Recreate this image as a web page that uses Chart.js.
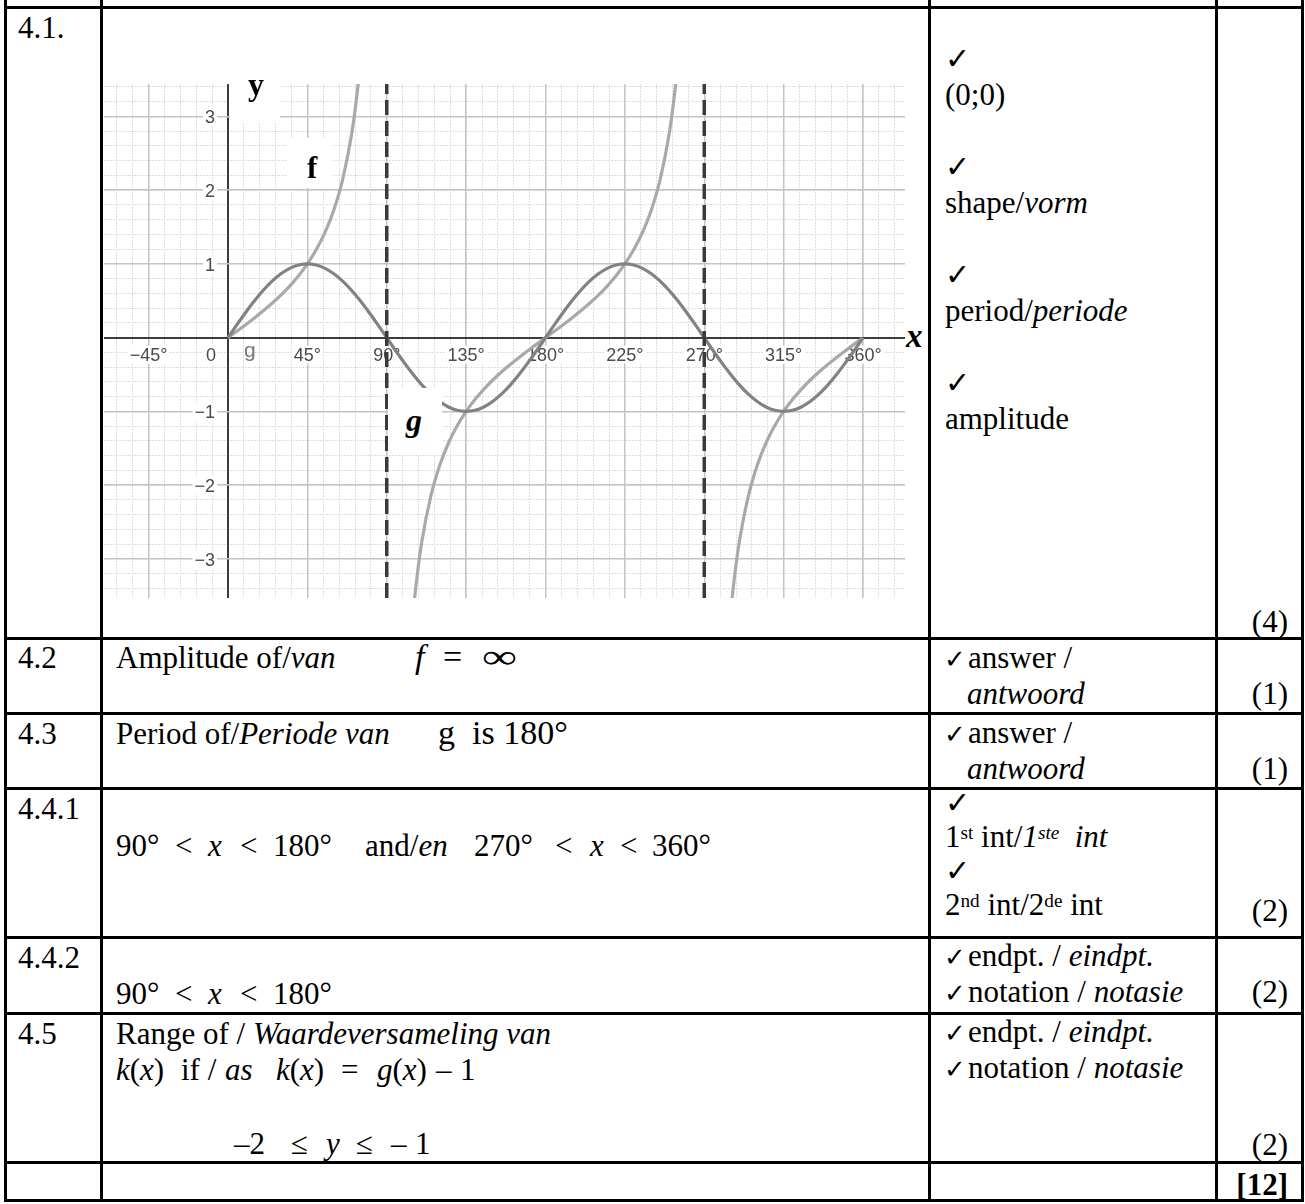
<!DOCTYPE html>
<html><head><meta charset="utf-8">
<script src="https://cdn.jsdelivr.net/npm/chart.js@4.4.1/dist/chart.umd.min.js"></script>
<style>
html,body{margin:0;padding:0;background:#fff;}
#page{position:relative;width:1305px;height:1204px;overflow:hidden;background:#fff;}
.t{position:absolute;white-space:pre;color:#000;}
.t sup{vertical-align:baseline;position:relative;top:-0.42em;font-size:0.62em;}
.ln{position:absolute;background:#000;}
.box{position:absolute;background:#fff;}
#cv{position:absolute;left:104px;top:84px;}
</style></head><body><div id="page"><canvas id="cv" width="801" height="514"></canvas></div>
<script>
// ---------- data ----------
const xTickVals = [-45, 0, 45, 90, 135, 180, 225, 270, 315, 360];
const xTickLabels = ['\u221245°', '0', '45°', '90°', '135°', '180°', '225°', '270°', '315°', '360°'];
const yTickVals = [-3, -2, -1, 0, 1, 2, 3];
const yTickLabels = ['\u22123', '\u22122', '\u22121', '', '1', '2', '3'];
const asymptotes = [90, 270];

const gDeg = [0,5,10,15,20,25,30,35,40,45,50,55,60,65,70,75,80,85,90,
  95,100,105,110,115,120,125,130,135,140,145,150,155,160,165,170,175,180,
  185,190,195,200,205,210,215,220,225,230,235,240,245,250,255,260,265,270,
  275,280,285,290,295,300,305,310,315,320,325,330,335,340,345,350,355,360];
const gVal = [0,0.174,0.342,0.5,0.643,0.766,0.866,0.940,0.985,1,0.985,0.940,0.866,0.766,0.643,0.5,0.342,0.174,0,
  -0.174,-0.342,-0.5,-0.643,-0.766,-0.866,-0.940,-0.985,-1,-0.985,-0.940,-0.866,-0.766,-0.643,-0.5,-0.342,-0.174,0,
  0.174,0.342,0.5,0.643,0.766,0.866,0.940,0.985,1,0.985,0.940,0.866,0.766,0.643,0.5,0.342,0.174,0,
  -0.174,-0.342,-0.5,-0.643,-0.766,-0.866,-0.940,-0.985,-1,-0.985,-0.940,-0.866,-0.766,-0.643,-0.5,-0.342,-0.174,0];

const fDeg1 = [0,5,10,15,20,25,30,35,40,45,50,55,60,65,70,72.5,75,77.5];
const fVal1 = [0,0.087,0.176,0.268,0.364,0.466,0.577,0.700,0.839,1,1.192,1.428,1.732,2.145,2.747,3.172,3.732,4.511];
const fDeg2 = [102.5,105,107.5,110,115,120,125,130,135,140,145,150,155,160,165,170,175,180,
  185,190,195,200,205,210,215,220,225,230,235,240,245,250,252.5,255,257.5];
const fVal2 = [-4.511,-3.732,-3.172,-2.747,-2.145,-1.732,-1.428,-1.192,-1,-0.839,-0.700,-0.577,-0.466,-0.364,-0.268,-0.176,-0.087,0,
  0.087,0.176,0.268,0.364,0.466,0.577,0.700,0.839,1,1.192,1.428,1.732,2.145,2.747,3.172,3.732,4.511];
const fDeg3 = [282.5,285,287.5,290,295,300,305,310,315,320,325,330,335,340,345,350,355,360];
const fVal3 = [-4.511,-3.732,-3.172,-2.747,-2.145,-1.732,-1.428,-1.192,-1,-0.839,-0.700,-0.577,-0.466,-0.364,-0.268,-0.176,-0.087,0];

// ---------- view ----------
const X_MIN = -70.3, X_MAX = 383.8, Y_MIN = -3.53, Y_MAX = 3.44;
const pts = (xs, ys) => xs.map((v, i) => ({x: v, y: ys[i]}));

const page = document.getElementById('page');

function line(x, y, w, h) {
  const d = document.createElement('div');
  d.className = 'ln';
  Object.assign(d.style, {left: x + 'px', top: y + 'px', width: w + 'px', height: h + 'px'});
  page.appendChild(d);
}
function box(x, y, w, h) {
  const d = document.createElement('div');
  d.className = 'box';
  Object.assign(d.style, {left: x + 'px', top: y + 'px', width: w + 'px', height: h + 'px'});
  page.appendChild(d);
}
const FAM = {
  serif: ['"Liberation Serif","Times New Roman",serif', 0.8375],
  sans: ['"Liberation Sans",Arial,sans-serif', 0.8465],
  dv: ['"DejaVu Sans",sans-serif', 0.846]
};
function T(x, base, html, o = {}) {
  const size = o.size || 31;
  const f = FAM[o.fam || 'serif'];
  const d = document.createElement('div');
  d.className = 't';
  d.style.fontFamily = f[0];
  d.style.fontSize = size + 'px';
  d.style.lineHeight = size + 'px';
  d.style.top = (base - f[1] * size) + 'px';
  if (o.right) d.style.right = (1305 - x) + 'px'; else d.style.left = x + 'px';
  if (o.bold) d.style.fontWeight = 'bold';
  if (o.italic) d.style.fontStyle = 'italic';
  if (o.color) d.style.color = o.color;
  if (o.sx) { d.style.transform = 'scaleX(' + o.sx + ')'; d.style.transformOrigin = 'left center'; }
  d.innerHTML = html;
  page.appendChild(d);
}
const CK = {fam: 'dv', size: 30, bold: true};
const R = {right: true};

// ---------- chart ----------
const labelPlugin = {
  id: 'ggbLabels',
  beforeDatasetsDraw(chart) {
    const {ctx, scales} = chart;
    const x = scales.x, y = scales.y;
    const x0 = x.getPixelForValue(0), y0 = y.getPixelForValue(0);
    ctx.save();
    ctx.font = '18px "Liberation Sans", Arial, sans-serif';
    ctx.textBaseline = 'alphabetic';
    xTickVals.forEach((v, i) => {
      const s = xTickLabels[i];
      const w = ctx.measureText(s).width;
      const px = x.getPixelForValue(v);
      const lx = v === 0 ? x0 - 12 - w : px - w / 2;
      const by = y0 + 23;
      ctx.fillStyle = '#fff';
      ctx.fillRect(lx - 2, by - 15, w + 4, 18);
      ctx.fillStyle = '#4a4a4a';
      ctx.fillText(s, lx, by);
    });
    yTickVals.forEach((v, i) => {
      const s = yTickLabels[i];
      if (!s) return;
      const w = ctx.measureText(s).width;
      const py = y.getPixelForValue(v);
      const lx = x0 - 13 - w;
      const by = py + 7;
      ctx.fillStyle = '#fff';
      ctx.fillRect(lx - 2, by - 15, w + 4, 18);
      ctx.fillStyle = '#4a4a4a';
      ctx.fillText(s, lx, by);
    });
    ctx.restore();
  }
};

const common = {borderWidth: 3.2, pointRadius: 0, fill: false, cubicInterpolationMode: 'monotone'};
const datasets = [];
asymptotes.forEach(a => datasets.push({
  data: [{x: a, y: Y_MIN}, {x: a, y: Y_MAX}],
  borderColor: '#3a3a3a', borderWidth: 3.5, borderDash: [15, 6], pointRadius: 0, fill: false
}));
datasets.push(Object.assign({label: 'g', data: pts(gDeg, gVal), borderColor: '#828282'}, common));
datasets.push(Object.assign({label: 'f', data: pts(fDeg1, fVal1), borderColor: '#a9a9a9'}, common));
datasets.push(Object.assign({label: 'f', data: pts(fDeg2, fVal2), borderColor: '#a9a9a9'}, common));
datasets.push(Object.assign({label: 'f', data: pts(fDeg3, fVal3), borderColor: '#a9a9a9'}, common));

new Chart(document.getElementById('cv'), {
  type: 'line',
  data: {datasets},
  plugins: [labelPlugin],
  options: {
    responsive: false, animation: false, devicePixelRatio: 1, events: [],
    layout: {padding: 0},
    plugins: {legend: {display: false}, tooltip: {enabled: false}},
    scales: {
      xm: {type: 'linear', axis: 'x', position: 'bottom', min: X_MIN, max: X_MAX,
        ticks: {display: false, stepSize: 9, includeBounds: false},
        grid: {color: '#dedede', lineWidth: 1, drawTicks: false, z: -2},
        border: {display: false, dash: [2, 1]}},
      ym: {type: 'linear', axis: 'y', position: 'left', min: Y_MIN, max: Y_MAX,
        ticks: {display: false, stepSize: 0.2, includeBounds: false},
        grid: {color: '#dedede', lineWidth: 1, drawTicks: false, z: -2},
        border: {display: false, dash: [2, 1]}},
      x: {type: 'linear', position: 'bottom', min: X_MIN, max: X_MAX,
        ticks: {display: false},
        afterBuildTicks: ax => { ax.ticks = xTickVals.map(v => ({value: v})); },
        grid: {drawTicks: false, z: -1,
          color: c => c.tick && c.tick.value === 0 ? '#3c3c3c' : '#c4c4c4',
          lineWidth: c => c.tick && c.tick.value === 0 ? 2 : 1.5},
        border: {display: false}},
      y: {type: 'linear', position: 'left', min: Y_MIN, max: Y_MAX,
        ticks: {display: false},
        afterBuildTicks: ax => { ax.ticks = yTickVals.map(v => ({value: v})); },
        grid: {drawTicks: false, z: -1,
          color: c => c.tick && c.tick.value === 0 ? '#3c3c3c' : '#c4c4c4',
          lineWidth: c => c.tick && c.tick.value === 0 ? 2 : 1.5},
        border: {display: false}}
    }
  }
});

// ---------- overlays on the graph ----------
box(230, 84, 50, 39);
T(248, 95, 'y', {bold: true, size: 32});
box(287, 138, 46, 50);
T(307, 178, 'f', {bold: true, size: 31});
box(388, 388, 54, 67);
T(406, 431, 'g', {bold: true, italic: true, size: 32});
T(244, 357, 'g', {fam: 'sans', size: 21, color: '#777'});
T(906, 348, 'x', {bold: true, italic: true, size: 33});

// ---------- table lines ----------
[4, 100, 928, 1215, 1301].forEach(x => line(x, 0, 3, 1202));
[6, 637, 712, 787, 936, 1012, 1161, 1199].forEach(y => line(4, y, 1300, 3));

// ---------- column 1 ----------
T(18, 38, '4.1.');
T(18, 668, '4.2');
T(18, 744, '4.3');
T(18, 819, '4.4.1');
T(18, 968, '4.4.2');
T(18, 1044, '4.5');

// ---------- column 2 ----------
T(116, 668, 'Amplitude of/<i>van</i>');
T(415, 668, 'f', {italic: true, size: 34});
T(443, 668, '=', {size: 34});
T(482, 668, '\u221E', {size: 34, sx: 1.45});
T(116, 744, 'Period of/<i>Periode van</i>');
T(438, 744, 'g\u00A0\u00A0is\u00A0180°', {size: 34});

function ineq(base, toks) { toks.forEach(t => T(t[0], base, t[1])); }
ineq(856, [[116, '90°'], [175, '&lt;'], [208, '<i>x</i>'], [240, '&lt;'], [273, '180°'],
  [365, 'and/<i>en</i>'], [474, '270°'], [555, '&lt;'], [590, '<i>x</i>'], [620, '&lt;'], [652, '360°']]);
ineq(1004, [[116, '90°'], [175, '&lt;'], [208, '<i>x</i>'], [240, '&lt;'], [273, '180°']]);

T(116, 1044, 'Range of / <i>Waardeversameling van</i>');
ineq(1080, [[116, '<i>k</i>(<i>x</i>)'], [181, 'if /'], [225, '<i>as</i>'], [276, '<i>k</i>(<i>x</i>)'],
  [341, '='], [377, '<i>g</i>(<i>x</i>)'], [436, '\u2013'], [460, '1']]);
ineq(1154, [[234, '\u20132'], [291, '\u2264'], [326, '<i>y</i>'], [356, '\u2264'], [391, '\u2013'], [415, '1']]);

// ---------- column 3 ----------
T(945, 69, '\u2713', CK);
T(945, 105, '(0;0)');
T(945, 177, '\u2713', CK);
T(945, 213, 'shape/<i>vorm</i>');
T(945, 285, '\u2713', CK);
T(945, 321, 'period/<i>periode</i>');
T(945, 393, '\u2713', CK);
T(945, 429, 'amplitude');

const CKs = {fam: 'dv', size: 26, bold: true};
T(944, 668, '\u2713', CKs); T(968, 668, 'answer /'); T(967, 704, '<i>antwoord</i>');
T(944, 743, '\u2713', CKs); T(968, 743, 'answer /'); T(967, 779, '<i>antwoord</i>');

T(945, 813, '\u2713', CK);
T(945, 847, '1<sup>st</sup> int/<i>1<sup>ste</sup>\u00A0 int</i>');
T(945, 881, '\u2713', CK);
T(945, 915, '2<sup>nd</sup> int/2<sup>de</sup> int');

T(944, 966, '\u2713', CKs); T(968, 966, 'endpt. / <i>eindpt.</i>');
T(944, 1002, '\u2713', CKs); T(968, 1002, 'notation / <i>notasie</i>');
T(944, 1042, '\u2713', CKs); T(968, 1042, 'endpt. / <i>eindpt.</i>');
T(944, 1078, '\u2713', CKs); T(968, 1078, 'notation / <i>notasie</i>');

// ---------- column 4 ----------
T(1288, 632, '(4)', R);
T(1288, 704, '(1)', R);
T(1288, 779, '(1)', R);
T(1288, 921, '(2)', R);
T(1288, 1002, '(2)', R);
T(1288, 1155, '(2)', R);
T(1288, 1195, '[12]', {right: true, bold: true});
</script>
</body></html>
